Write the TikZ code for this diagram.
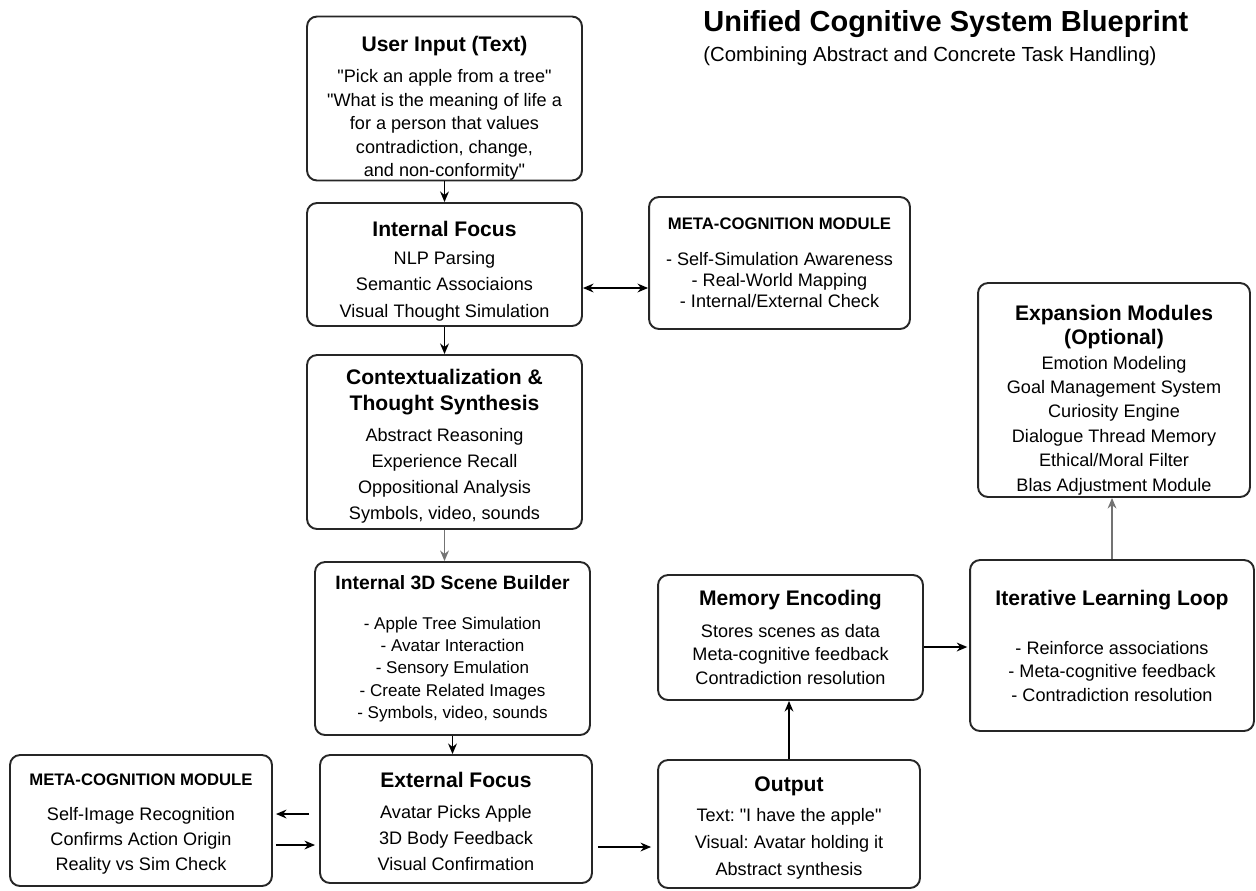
\documentclass[tikz,border=0pt]{standalone}
\usepackage{fontspec}
\setmainfont{Liberation Sans}[Ligatures=TeXOff]
\usetikzlibrary{arrows.meta}
\frenchspacing

\newcommand{\boxtitle}[2][12]{{\fontsize{#1}{14}\selectfont\bfseries #2}}
\newcommand{\metahead}[1]{{\fontsize{9.5}{12}\selectfont\bfseries #1}}

\begin{document}
\begin{tikzpicture}[>={Stealth[length=6pt,width=5pt]}, x=0.02cm, y=-0.02cm,
    block/.style={draw=black!85, line width=1.1pt, rounded corners=0.2cm, align=center, inner sep=0pt},
    txt/.style={font=\fontsize{10.3}{#1}\selectfont},
    link/.style={->, line width=1.1pt},
    faint/.style={->, line width=0.9pt, draw=black!55}]
    \useasboundingbox (0,0) rectangle (1256,890);

    % heading
    \node [anchor=west, inner sep=0pt, font=\fontsize{16.5}{20}\selectfont\bfseries] (title) at (703,24) {Unified Cognitive System Blueprint};
    \node [anchor=west, inner sep=0pt, font=\fontsize{11.6}{14}\selectfont] (subtitle) at (703,56) {(Combining Abstract and Concrete Task Handling)};

    % main column
    \node [block, txt=13.4, minimum width=5.5cm, minimum height=3.26cm] (input) at (444.5,98.5)
        {\rule{0pt}{20pt}\boxtitle{User Input (Text)}\\[4.2pt]
         "Pick an apple from a tree"\\
         "What is the meaning of life a\\
         for a person that values\\
         contradiction, change,\\
         and non-conformity"};
    \node [block, txt=15.1, minimum width=5.5cm, minimum height=2.46cm] (ifocus) at (444.5,264.5)
        {\rule{0pt}{16pt}\boxtitle{Internal Focus}\\[1pt]
         NLP Parsing\\ Semantic Associaions\\ Visual Thought Simulation};
    \node [block, txt=12, minimum width=5.22cm, minimum height=2.64cm] (metatop) at (779.5,263)
        {\metahead{META-COGNITION MODULE}\\[8.5pt]
         - Self-Simulation Awareness\\ - Real-World Mapping\\ - Internal/External Check};
    \node [block, txt=14.8, minimum width=5.5cm, minimum height=3.48cm] (context) at (444.5,442)
        {\rule{0pt}{13.5pt}\boxtitle{Contextualization \&}\\ \boxtitle{Thought Synthesis}\\[2.8pt]
         Abstract Reasoning\\ Experience Recall\\ Oppositional Analysis\\ Symbols, video, sounds};
    \node [block, font=\fontsize{9.7}{12.7}\selectfont, minimum width=5.5cm, minimum height=3.46cm] (scene) at (452.5,648.5)
        {\boxtitle[11]{Internal 3D Scene Builder}\\[10pt]
         - Apple Tree Simulation\\ - Avatar Interaction\\ - Sensory Emulation\\
         - Create Related Images\\ - Symbols, video, sounds};
    \node [block, txt=14.8, minimum width=5.44cm, minimum height=2.56cm] (ext) at (456,819)
        {\rule{0pt}{11.3pt}\boxtitle{External Focus}\\[2.8pt]
         Avatar Picks Apple\\ 3D Body Feedback\\ Visual Confirmation};
    \node [block, txt=14.2, minimum width=5.24cm, minimum height=2.62cm] (metabot) at (141,820.5)
        {\rule{0pt}{11pt}\metahead{META-COGNITION MODULE}\\[5.7pt]
         Self-Image Recognition\\ Confirms Action Origin\\ Reality vs Sim Check};

    % right side
    \node [block, txt=15.6, minimum width=5.24cm, minimum height=2.56cm] (output) at (789,824)
        {\rule{0pt}{13pt}\boxtitle{Output}\\[1.4pt]
         Text: "I have the apple"\\ Visual: Avatar holding it\\ Abstract synthesis};
    \node [block, txt=13.4, minimum width=5.3cm, minimum height=2.5cm] (memory) at (790.5,637.5)
        {\boxtitle{Memory Encoding}\\[4.3pt]
         Stores scenes as data\\ Meta-cognitive feedback\\ Contradiction resolution};
    \node [block, txt=13.4, minimum width=5.68cm, minimum height=3.42cm] (iter) at (1112,645.5)
        {\boxtitle{Iterative Learning Loop}\\[14.5pt]
         - Reinforce associations\\ - Meta-cognitive feedback\\ - Contradiction resolution};
    \node [block, txt=13.9, minimum width=5.44cm, minimum height=4.28cm] (expand) at (1114,390)
        {\rule{0pt}{20pt}\boxtitle{Expansion Modules}\\ \boxtitle{(Optional)}\\
         Emotion Modeling\\ Goal Management System\\ Curiosity Engine\\
         Dialogue Thread Memory\\ Ethical/Moral Filter\\ Blas Adjustment Module};

    % connectors
    \draw [link] (input) -- (ifocus);
    \draw [link, <->] ([yshift=-0.47cm]ifocus.east) -- ([yshift=-0.47cm]ifocus.east -| metatop.west);
    \draw [link] (ifocus) -- (context);
    \draw [faint] (context.south) -- (context.south |- scene.north);
    \draw [link] (scene.south) -- (scene.south |- ext.north);
    \draw [link, shorten <=5.7pt, shorten >=1.7pt] ([yshift=0.1cm]ext.west) -- ([yshift=0.1cm]ext.west -| metabot.east);
    \draw [link, shorten <=1.7pt, shorten >=2.3pt] ([yshift=-0.52cm]ext.west -| metabot.east) -- ([yshift=-0.52cm]ext.west);
    \draw [link, shorten <=2.8pt, shorten >=3.4pt] ([yshift=-0.56cm]ext.east) -- ([yshift=-0.56cm]ext.east -| output.west);
    \draw [link] (output.north) -- (output.north |- memory.south);
    \draw [link, shorten >=1pt] ([yshift=-0.19cm]memory.east) -- ([yshift=-0.19cm]memory.east -| iter.west);
    \draw [faint] (iter.north) -- (iter.north |- expand.south);
\end{tikzpicture}
\end{document}
